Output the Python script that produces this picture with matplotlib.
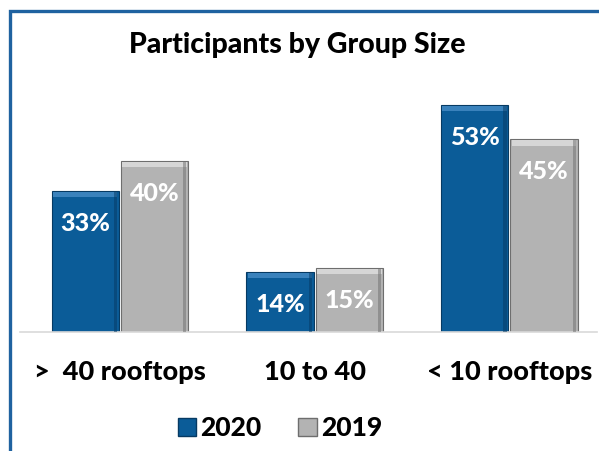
import numpy as np
import matplotlib.pyplot as plt
from matplotlib.patches import Patch, Rectangle

categories = ['>  40 rooftops', '10 to 40', '< 10 rooftops']
series_names = ['2020', '2019']
values_2020 = [33, 14, 53]
values_2019 = [40, 15, 45]

BLUE = '#0B5C98'
GRAY = '#B3B3B3'
FONT = 'Lato'
WEIGHT = 'black'


def bevel_bar(ax, x, h, w, color, light, dark):
    # main body
    ax.bar(x, h, w, color=color, edgecolor=dark, linewidth=0.8, zorder=2)
    # top highlight strip and right shadow strip
    ax.bar(x, 1.2, w * 0.96, bottom=h - 1.5, color=light, linewidth=0, zorder=3)
    ax.bar(x + w * 0.45, h - 0.3, w * 0.05, color=dark, linewidth=0, zorder=3, alpha=0.5)


def main():
    fig = plt.figure(figsize=(5.99, 4.51), dpi=100)
    ax = fig.add_axes([20 / 599, 1 - 332 / 451, 577 / 599, 0.57])

    x = np.arange(len(categories))
    w = 0.345
    off = 0.178
    for i in range(len(categories)):
        bevel_bar(ax, x[i] - off, values_2020[i], w, BLUE, '#3A82BC', '#063A63')
        bevel_bar(ax, x[i] + off, values_2019[i], w, GRAY, '#D6D6D6', '#6E6E6E')
        ax.text(x[i] - off, values_2020[i] - 7.6, f'{values_2020[i]}%', ha='center', va='center',
                color='white', fontsize=18, fontweight=WEIGHT, family=FONT, zorder=4)
        ax.text(x[i] + off, values_2019[i] - 7.6, f'{values_2019[i]}%', ha='center', va='center',
                color='white', fontsize=18, fontweight=WEIGHT, family=FONT, zorder=4)

    ax.set_xlim(-0.513, 2.45)
    ax.set_ylim(0, 60)
    for s in ['top', 'right', 'left']:
        ax.spines[s].set_visible(False)
    ax.spines['bottom'].set_color('#D9D9D9')
    ax.spines['bottom'].set_linewidth(1.2)
    ax.set_yticks([])
    ax.set_xticks(x)
    ax.set_xticklabels(categories, fontsize=19.5, fontweight=WEIGHT, family=FONT)
    ax.tick_params(axis='x', length=0, pad=20)

    fig.text(297 / 599, 1 - 45 / 451, 'Participants by Group Size', ha='center', va='center',
             fontsize=20.5, fontweight=WEIGHT, family=FONT)

    handles = [Patch(facecolor=BLUE, edgecolor='#063A63'), Patch(facecolor=GRAY, edgecolor='#6E6E6E')]
    fig.legend(handles, series_names, loc='center', bbox_to_anchor=(280 / 599, 1 - 428 / 451),
               ncol=2, frameon=False, handlelength=0.7, handleheight=0.7, handletextpad=0.15,
               columnspacing=1.4, prop={'family': FONT, 'weight': WEIGHT, 'size': 19})

    # blue frame around chart (cropped on right and bottom)
    fig.patches.append(Rectangle((9.5 / 599, -0.1), 1.2, 1 - 10.5 / 451 + 0.1, transform=fig.transFigure,
                                 fill=False, edgecolor='#1F62A0', linewidth=2.4))

    fig.savefig('out.png', dpi=100)


if __name__ == "__main__":
    main()
